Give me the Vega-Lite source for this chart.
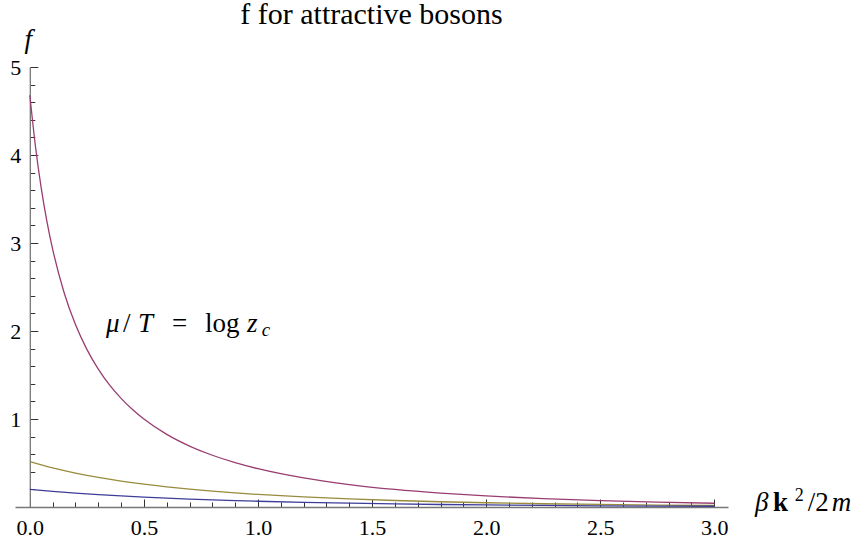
{
  "$schema": "https://vega.github.io/schema/vega-lite/v6.json",
  "autosize": {"type": "none"},
  "padding": {"left": 15, "top": 67, "right": 127, "bottom": 37},
  "width": 713,
  "height": 440,
  "background": "white",
  "title": {
    "text": "f for attractive bosons",
    "font": "Liberation Serif",
    "fontSize": 30,
    "fontWeight": "normal",
    "color": "black",
    "anchor": "middle",
    "frame": "group",
    "baseline": "alphabetic",
    "offset": -29
  },
  "config": {
    "font": "Liberation Serif",
    "title": {"font": "Liberation Serif", "fontWeight": "normal"},
    "view": {"stroke": null},
    "axis": {
      "labelFont": "Liberation Serif",
      "titleFont": "Liberation Serif",
      "grid": false,
      "domainColor": "#777777",
      "domainWidth": 1.3,
      "tickColor": "#333333",
      "tickWidth": 1,
      "labelColor": "black"
    }
  },
  "datasets": {
    "curves": [
      {"x": 0, "f": 4.679, "curve": "high"},
      {"x": 0.025, "f": 4.091, "curve": "high"},
      {"x": 0.05, "f": 3.624, "curve": "high"},
      {"x": 0.075, "f": 3.244, "curve": "high"},
      {"x": 0.1, "f": 2.93, "curve": "high"},
      {"x": 0.15, "f": 2.438, "curve": "high"},
      {"x": 0.2, "f": 2.073, "curve": "high"},
      {"x": 0.25, "f": 1.791, "curve": "high"},
      {"x": 0.3, "f": 1.567, "curve": "high"},
      {"x": 0.35, "f": 1.384, "curve": "high"},
      {"x": 0.4, "f": 1.234, "curve": "high"},
      {"x": 0.45, "f": 1.107, "curve": "high"},
      {"x": 0.5, "f": 0.999, "curve": "high"},
      {"x": 0.6, "f": 0.825, "curve": "high"},
      {"x": 0.7, "f": 0.6925, "curve": "high"},
      {"x": 0.8, "f": 0.588, "curve": "high"},
      {"x": 0.9, "f": 0.504, "curve": "high"},
      {"x": 1.0, "f": 0.435, "curve": "high"},
      {"x": 1.2, "f": 0.33, "curve": "high"},
      {"x": 1.4, "f": 0.255, "curve": "high"},
      {"x": 1.6, "f": 0.1995, "curve": "high"},
      {"x": 1.8, "f": 0.1577, "curve": "high"},
      {"x": 2.0, "f": 0.1255, "curve": "high"},
      {"x": 2.25, "f": 0.0951, "curve": "high"},
      {"x": 2.5, "f": 0.0725, "curve": "high"},
      {"x": 2.75, "f": 0.0556, "curve": "high"},
      {"x": 3.0, "f": 0.0428, "curve": "high"},
      {"x": 0, "f": 0.515, "curve": "mid"},
      {"x": 0.1, "f": 0.444, "curve": "mid"},
      {"x": 0.2, "f": 0.3856, "curve": "mid"},
      {"x": 0.3, "f": 0.3366, "curve": "mid"},
      {"x": 0.4, "f": 0.2951, "curve": "mid"},
      {"x": 0.5, "f": 0.2597, "curve": "mid"},
      {"x": 0.6, "f": 0.2293, "curve": "mid"},
      {"x": 0.7, "f": 0.2031, "curve": "mid"},
      {"x": 0.8, "f": 0.1803, "curve": "mid"},
      {"x": 0.9, "f": 0.1604, "curve": "mid"},
      {"x": 1.0, "f": 0.1429, "curve": "mid"},
      {"x": 1.2, "f": 0.1141, "curve": "mid"},
      {"x": 1.4, "f": 0.0915, "curve": "mid"},
      {"x": 1.6, "f": 0.0737, "curve": "mid"},
      {"x": 1.8, "f": 0.0595, "curve": "mid"},
      {"x": 2.0, "f": 0.0482, "curve": "mid"},
      {"x": 2.25, "f": 0.0372, "curve": "mid"},
      {"x": 2.5, "f": 0.0287, "curve": "mid"},
      {"x": 2.75, "f": 0.0222, "curve": "mid"},
      {"x": 3.0, "f": 0.0172, "curve": "mid"},
      {"x": 0, "f": 0.201, "curve": "low"},
      {"x": 0.1, "f": 0.1785, "curve": "low"},
      {"x": 0.2, "f": 0.1588, "curve": "low"},
      {"x": 0.3, "f": 0.1415, "curve": "low"},
      {"x": 0.4, "f": 0.1264, "curve": "low"},
      {"x": 0.5, "f": 0.113, "curve": "low"},
      {"x": 0.6, "f": 0.1011, "curve": "low"},
      {"x": 0.7, "f": 0.0906, "curve": "low"},
      {"x": 0.8, "f": 0.0813, "curve": "low"},
      {"x": 0.9, "f": 0.073, "curve": "low"},
      {"x": 1.0, "f": 0.0656, "curve": "low"},
      {"x": 1.2, "f": 0.0531, "curve": "low"},
      {"x": 1.4, "f": 0.043, "curve": "low"},
      {"x": 1.6, "f": 0.035, "curve": "low"},
      {"x": 1.8, "f": 0.0285, "curve": "low"},
      {"x": 2.0, "f": 0.0232, "curve": "low"},
      {"x": 2.25, "f": 0.018, "curve": "low"},
      {"x": 2.5, "f": 0.0139, "curve": "low"},
      {"x": 2.75, "f": 0.0108, "curve": "low"},
      {"x": 3.0, "f": 0.0084, "curve": "low"}
    ]
  },
  "layer": [
    {
      "data": {"name": "curves"},
      "mark": {"type": "line", "interpolate": "monotone", "strokeWidth": 1.3},
      "encoding": {
        "x": {
          "field": "x",
          "type": "quantitative",
          "scale": {"domain": [-0.065, 3.06], "nice": false, "zero": false},
          "axis": {
            "values": [0, 0.1, 0.2, 0.3, 0.4, 0.5, 0.6, 0.7, 0.8, 0.9, 1.0, 1.1, 1.2, 1.3, 1.4, 1.5, 1.6, 1.7, 1.8, 1.9, 2.0, 2.1, 2.2, 2.3, 2.4, 2.5, 2.6, 2.7, 2.8, 2.9, 3.0],
            "tickCount": 200,
            "labelExpr": "abs(datum.value*2 - round(datum.value*2)) < 0.001 ? format(datum.value, '.1f') : ''",
            "tickSize": {"condition": {"test": "abs(datum.value*2 - round(datum.value*2)) < 0.001", "value": -8}, "value": -5},
            "labelFontSize": 22,
            "labelPadding": 18,
            "labelFlush": false,
            "labelOverlap": false,
            "title": null
          }
        },
        "y": {
          "field": "f",
          "type": "quantitative",
          "scale": {"domain": [0, 5], "nice": false},
          "axis": {
            "offset": -14.8,
            "values": [0.2, 0.4, 0.6, 0.8, 1.0, 1.2, 1.4, 1.6, 1.8, 2.0, 2.2, 2.4, 2.6, 2.8, 3.0, 3.2, 3.4, 3.6, 3.8, 4.0, 4.2, 4.4, 4.6, 4.8, 5.0],
            "tickCount": 200,
            "labelExpr": "abs(datum.value - round(datum.value)) < 0.001 ? format(datum.value, 'd') : ''",
            "tickSize": {"condition": {"test": "abs(datum.value - round(datum.value)) < 0.001", "value": -8}, "value": -5},
            "labelFontSize": 22,
            "labelPadding": 17,
            "labelOverlap": false,
            "labelFlush": false,
            "title": "f",
            "titleFontSize": 27,
            "titleFontStyle": "italic",
            "titleFontWeight": "normal",
            "titleColor": "black",
            "titleAngle": 0,
            "titleX": -2,
            "titleY": -20,
            "titleAlign": "center",
            "titleBaseline": "alphabetic",
            "titleAnchor": null
          }
        },
        "color": {
          "field": "curve",
          "type": "nominal",
          "scale": {"domain": ["low", "mid", "high"], "range": ["#3d3d99", "#998b3d", "#993d71"]},
          "legend": null
        }
      }
    },
    {
      "data": {"values": [
        {"x": 0.334, "y": 1.992, "t": "μ"},
        {"x": 0.474, "y": 1.992, "t": "T"},
        {"x": 0.952, "y": 1.992, "t": "z"},
        {"x": 3.178, "y": -0.045, "t": "β"},
        {"x": 3.515, "y": -0.045, "t": "m"}
      ]},
      "mark": {"type": "text", "font": "Liberation Serif", "fontStyle": "italic", "fontSize": 27, "align": "left", "baseline": "alphabetic", "color": "black"},
      "encoding": {
        "x": {"field": "x", "type": "quantitative"},
        "y": {"field": "y", "type": "quantitative"},
        "text": {"field": "t"}
      }
    },
    {
      "data": {"values": [
        {"x": 0.408, "y": 1.992, "t": "/"},
        {"x": 0.623, "y": 1.992, "t": "="},
        {"x": 0.768, "y": 1.992, "t": "log"},
        {"x": 3.41, "y": -0.045, "t": "/2"}
      ]},
      "mark": {"type": "text", "font": "Liberation Serif", "fontSize": 27, "align": "left", "baseline": "alphabetic", "color": "black"},
      "encoding": {
        "x": {"field": "x", "type": "quantitative"},
        "y": {"field": "y", "type": "quantitative"},
        "text": {"field": "t"}
      }
    },
    {
      "data": {"values": [{"x": 3.257, "y": -0.045, "t": "k"}]},
      "mark": {"type": "text", "font": "Liberation Serif", "fontWeight": "bold", "fontSize": 27, "align": "left", "baseline": "alphabetic", "color": "black"},
      "encoding": {
        "x": {"field": "x", "type": "quantitative"},
        "y": {"field": "y", "type": "quantitative"},
        "text": {"field": "t"}
      }
    },
    {
      "data": {"values": [{"x": 3.353, "y": 0.07, "t": "2"}]},
      "mark": {"type": "text", "font": "Liberation Serif", "fontSize": 18, "align": "left", "baseline": "alphabetic", "color": "black"},
      "encoding": {
        "x": {"field": "x", "type": "quantitative"},
        "y": {"field": "y", "type": "quantitative"},
        "text": {"field": "t"}
      }
    },
    {
      "data": {"values": [{"x": 1.017, "y": 1.943, "t": "c"}]},
      "mark": {"type": "text", "font": "Liberation Serif", "fontStyle": "italic", "fontSize": 19, "align": "left", "baseline": "alphabetic", "color": "black"},
      "encoding": {
        "x": {"field": "x", "type": "quantitative"},
        "y": {"field": "y", "type": "quantitative"},
        "text": {"field": "t"}
      }
    }
  ]
}
